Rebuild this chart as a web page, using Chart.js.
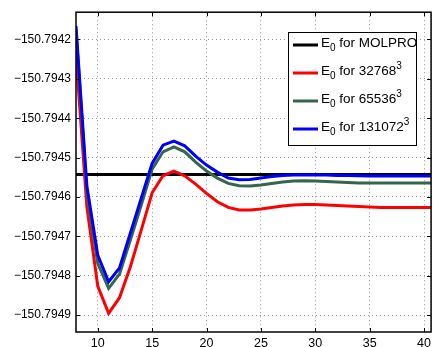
<!DOCTYPE html>
<html lang="en">
<head>
<meta charset="UTF-8">
<title>E0 convergence</title>
<script src="https://cdn.jsdelivr.net/npm/chart.js"></script>
<style>
  html, body { margin: 0; padding: 0; background: #fff; }
  #wrap { width: 435px; height: 347px; }
</style>
</head>
<body>
<div id="wrap"><canvas id="chart" width="435" height="347"></canvas></div>
<script>
  // grid size index on the x axis
  const xValues = [8, 9, 10, 11, 12, 13, 14, 15, 16, 17, 18, 19, 20, 21, 22, 23, 24,
                   25, 26, 27, 28, 29, 30, 31, 32, 33, 34, 35, 36, 37, 38, 39, 40, 41];

  const molproE0 = -150.7945426;

  const e0_32768 = [
    -150.7942398, -150.7946249, -150.7948261, -150.7948954, -150.7948558, -150.7947771,
    -150.7946840, -150.7945893, -150.7945462, -150.7945342, -150.7945462, -150.7945673,
    -150.7945909, -150.7946122, -150.7946264, -150.7946332, -150.7946332, -150.7946307,
    -150.7946269, -150.7946231, -150.7946205, -150.7946193, -150.7946193, -150.7946205,
    -150.7946218, -150.7946231, -150.7946244, -150.7946256, -150.7946264, -150.7946264,
    -150.7946264, -150.7946264, -150.7946264, -150.7946264
  ];
  const e0_65536 = [
    -150.7941764, -150.7945875, -150.7947685, -150.7948320, -150.7947957, -150.7947094,
    -150.7946205, -150.7945292, -150.7944853, -150.7944726, -150.7944853, -150.7945114,
    -150.7945342, -150.7945520, -150.7945655, -150.7945716, -150.7945723, -150.7945698,
    -150.7945660, -150.7945622, -150.7945596, -150.7945589, -150.7945596, -150.7945609,
    -150.7945622, -150.7945634, -150.7945642, -150.7945647, -150.7945647, -150.7945647,
    -150.7945647, -150.7945647, -150.7945647, -150.7945647
  ];
  const e0_131072 = [
    -150.7941662, -150.7945723, -150.7947474, -150.7948152, -150.7947804, -150.7946916,
    -150.7946028, -150.7945147, -150.7944683, -150.7944581, -150.7944700, -150.7944962,
    -150.7945190, -150.7945368, -150.7945520, -150.7945563, -150.7945553, -150.7945520,
    -150.7945482, -150.7945457, -150.7945444, -150.7945436, -150.7945439, -150.7945444,
    -150.7945452, -150.7945457, -150.7945462, -150.7945464, -150.7945469, -150.7945469,
    -150.7945469, -150.7945469, -150.7945469, -150.7945469
  ];

  const seriesNames = ['MOLPRO', '32768', '65536', '131072'];
  const seriesColors = ['#000000', '#ff0000', '#33664c', '#0000ff'];

  const xTicks = [10, 15, 20, 25, 30, 35, 40];
  const yTicks = [-150.7942, -150.7943, -150.7944, -150.7945, -150.7946, -150.7947, -150.7948, -150.7949];

  const toPoints = arr => xValues.map((x, i) => ({ x: x, y: arr[i] }));
  const allSeries = [xValues.map(() => molproE0), e0_32768, e0_65536, e0_131072];

  const FONT = "'Liberation Sans', Arial, Helvetica, sans-serif";

  // MATLAB-style box, inward ticks and the legend
  const boxPlugin = {
    id: 'box',
    afterDatasetsDraw(chart) {
      const { ctx, chartArea: a, scales: { x, y } } = chart;
      ctx.save();
      ctx.strokeStyle = '#000';
      ctx.lineWidth = 1;
      ctx.beginPath();
      xTicks.forEach(v => {
        const px = Math.round(x.getPixelForValue(v)) + 0.5;
        ctx.moveTo(px, a.bottom); ctx.lineTo(px, a.bottom - 4);
        ctx.moveTo(px, a.top); ctx.lineTo(px, a.top + 4);
      });
      yTicks.forEach(v => {
        const py = Math.round(y.getPixelForValue(v)) + 0.5;
        ctx.moveTo(a.left, py); ctx.lineTo(a.left + 4, py);
        ctx.moveTo(a.right, py); ctx.lineTo(a.right - 4, py);
      });
      ctx.stroke();
      ctx.lineWidth = 1.5;
      ctx.strokeRect(a.left, a.top, a.right - a.left, a.bottom - a.top);

      // legend
      const bx = 288.5, by = 32.5, bw = 128, bh = 113;
      ctx.fillStyle = '#fff';
      ctx.fillRect(bx, by, bw, bh);
      ctx.lineWidth = 1;
      ctx.strokeRect(bx, by, bw, bh);
      seriesNames.forEach((name, i) => {
        const ly = 45 + i * 28;
        ctx.strokeStyle = seriesColors[i];
        ctx.lineWidth = 3;
        ctx.beginPath();
        ctx.moveTo(293, ly); ctx.lineTo(318, ly);
        ctx.stroke();
        ctx.fillStyle = '#000';
        ctx.textBaseline = 'alphabetic';
        ctx.textAlign = 'left';
        let tx = 321;
        const base = ly + 2;
        ctx.font = '13.5px ' + FONT;
        ctx.fillText('E', tx, base);
        tx += ctx.measureText('E').width;
        ctx.font = '10px ' + FONT;
        ctx.fillText('0', tx, base + 4);
        tx += ctx.measureText('0').width;
        ctx.font = '13.5px ' + FONT;
        const txt = ' for ' + name;
        ctx.fillText(txt, tx, base);
        tx += ctx.measureText(txt).width;
        if (i > 0) {
          ctx.font = '10px ' + FONT;
          ctx.fillText('3', tx, base - 6);
        }
      });
      ctx.restore();
    }
  };

  const datasets = allSeries.map((arr, i) => ({
    label: 'E0 for ' + seriesNames[i],
    data: toPoints(arr),
    borderColor: seriesColors[i],
    backgroundColor: seriesColors[i],
    borderWidth: 3,
    pointRadius: 0,
    tension: 0,
    clip: 0,
    order: 4 - i
  }));

  new Chart(document.getElementById('chart'), {
    type: 'line',
    data: { datasets },
    options: {
      responsive: false,
      animation: false,
      layout: { padding: { top: 12, right: 2, left: 0, bottom: 0 } },
      plugins: { legend: { display: false }, tooltip: { enabled: false } },
      scales: {
        x: {
          type: 'linear',
          min: 8,
          max: 40.65,
          afterBuildTicks: s => { s.ticks = xTicks.map(v => ({ value: v })); },
          afterFit: s => { s.height = 15; },
          ticks: {
            color: '#000',
            padding: 4,
            maxRotation: 0,
            font: { family: FONT, size: 12.5 },
            callback: v => String(v)
          },
          grid: { color: '#999999', lineWidth: 1, drawTicks: false },
          border: { display: false, dash: [1, 3] }
        },
        y: {
          type: 'linear',
          min: -150.7949429,
          max: -150.7941307,
          afterBuildTicks: s => { s.ticks = yTicks.map(v => ({ value: v })); },
          afterFit: s => { s.width = 76; },
          ticks: {
            color: '#000',
            padding: 5,
            font: { family: FONT, size: 12 },
            callback: v => '\u2212' + Math.abs(v).toFixed(4)
          },
          grid: { color: '#999999', lineWidth: 1, drawTicks: false },
          border: { display: false, dash: [1, 3] }
        }
      }
    },
    plugins: [boxPlugin]
  });
</script>
</body>
</html>
